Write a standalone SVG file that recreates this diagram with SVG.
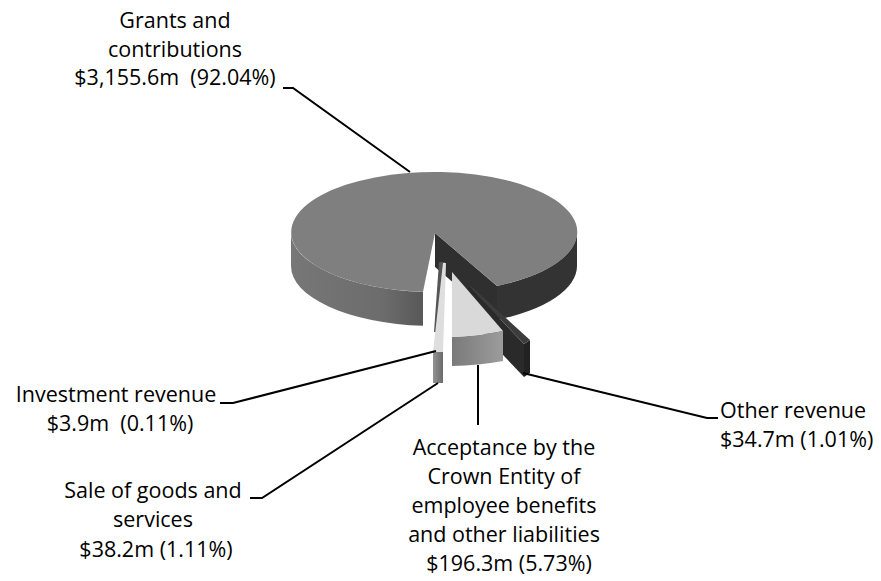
<svg xmlns="http://www.w3.org/2000/svg" width="881" height="581" viewBox="0 0 881 581">
<style>
  text { font-family: "Open Sans", "Liberation Sans", sans-serif; font-size: 21.5px; fill: #000; }
  .c { text-anchor: middle; }
  .lead { fill: none; stroke: #000; stroke-width: 2; }
</style>
<defs>
  <linearGradient id="gLeft" x1="0" y1="0" x2="1" y2="0">
    <stop offset="0" stop-color="#777"/>
    <stop offset="0.7" stop-color="#6c6c6c"/>
    <stop offset="1" stop-color="#585858"/>
  </linearGradient>
  <linearGradient id="gAcc" x1="0" y1="0" x2="1" y2="0">
    <stop offset="0" stop-color="#7a7a7a"/>
    <stop offset="1" stop-color="#9c9c9c"/>
  </linearGradient>
  <linearGradient id="gSale" x1="0" y1="0" x2="1" y2="0">
    <stop offset="0" stop-color="#939393"/>
    <stop offset="1" stop-color="#6a6a6a"/>
  </linearGradient>
</defs>
<rect width="881" height="581" fill="#fff"/>

<g id="grants">
  <path d="M435,233 L497,285.9 L497,319.9 L435,267 Z" fill="#2f2f2f"/>
  <path d="M291,232 A143,60 0 0 0 423,291.8 L423,325.8 A143,60 0 0 1 291,266 Z" fill="url(#gLeft)"/>
  <path d="M497,285.9 A143,60 0 0 0 577,232 L577,266 A143,60 0 0 1 497,319.9 Z" fill="#333"/>
  <path d="M435,233 L423,291.8 A143,60 0 1 1 497,285.9 Z" fill="#7f7f7f"/>
</g>

<g id="other-revenue">
  <path d="M468,285 L524,344 L524,377 L468,318 Z" fill="#2a2a2a"/>
  <path d="M524,344 L530,340 L530,373 L524,377 Z" fill="#222"/>
  <path d="M468,285 L472,287 L530,340 L524,344 Z" fill="#3c3c3c"/>
</g>

<g id="acceptance">
  <path d="M452,337 A143,60 0 0 0 503,331 L503,361 A143,60 0 0 1 452,366 Z" fill="url(#gAcc)"/>
  <path d="M452,272 L452,337 A143,60 0 0 0 503,331 Z" fill="#d9d9d9"/>
</g>

<g id="investment">
  <path d="M439,262 L445,262 L437,332 L434,332 Z" fill="#555"/>
</g>

<g id="sale">
  <path d="M443,263 L446,263 L443,352 L433,352 Z" fill="#dedede"/>
  <rect x="433" y="352" width="10" height="31" fill="url(#gSale)"/>
</g>

<g id="connectors">
  <polyline class="lead" points="283,88 293,88 410,172"/>
  <polyline class="lead" points="220,403 233,403 436,351"/>
  <polyline class="lead" points="250,498 262,498 438,383"/>
  <polyline class="lead" points="478,365 478,425"/>
  <polyline class="lead" points="523,373 707,418 718,418"/>
</g>

<g id="label-grants">
  <text class="c" x="175" y="28">Grants and</text>
  <text class="c" x="175" y="57">contributions</text>
  <text class="c" x="175" y="85" xml:space="preserve">$3,155.6m  (92.04%)</text>
</g>
<g id="label-investment">
  <text class="c" x="116" y="402">Investment revenue</text>
  <text class="c" x="120" y="431" xml:space="preserve">$3.9m  (0.11%)</text>
</g>
<g id="label-sale">
  <text class="c" x="153" y="498">Sale of goods and</text>
  <text class="c" x="153" y="527">services</text>
  <text class="c" x="156" y="557">$38.2m (1.11%)</text>
</g>
<g id="label-acceptance">
  <text class="c" x="504" y="455">Acceptance by the</text>
  <text class="c" x="504" y="484">Crown Entity of</text>
  <text class="c" x="504" y="513">employee benefits</text>
  <text class="c" x="504" y="542">and other liabilities</text>
  <text class="c" x="509" y="571">$196.3m (5.73%)</text>
</g>
<g id="label-other">
  <text x="720" y="418">Other revenue</text>
  <text x="720" y="447">$34.7m (1.01%)</text>
</g>
</svg>
